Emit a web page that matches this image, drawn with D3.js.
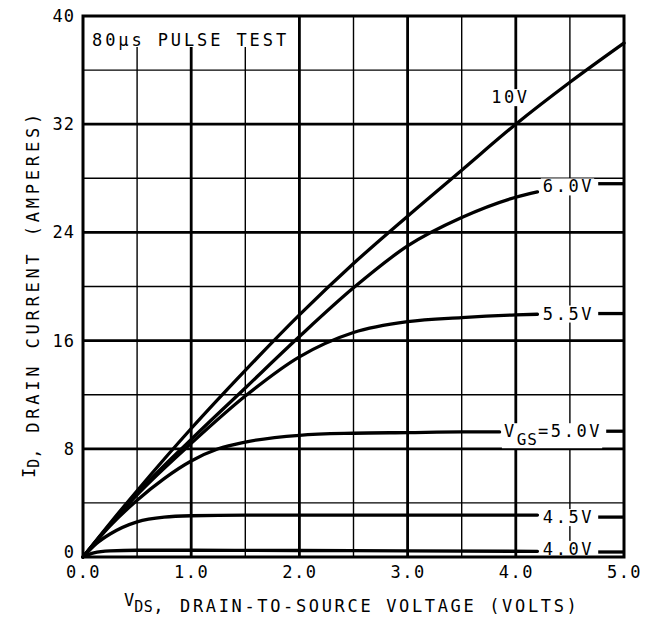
<!DOCTYPE html>
<html><head><meta charset="utf-8">
<script src="https://cdn.jsdelivr.net/npm/d3@7"></script>
<style>
html,body{margin:0;padding:0;background:#fff;}
svg text{font-family:"DejaVu Sans Mono","Liberation Mono",monospace;fill:#000;}
</style></head>
<body>
<svg id="chart" width="647" height="620"></svg>
<script>
// ---- data ----
const xTickValues = [0, 1, 2, 3, 4, 5];
const xTickLabels = ["0.0", "1.0", "2.0", "3.0", "4.0", "5.0"];
const yTickValues = [0, 8, 16, 24, 32, 40];
const yTickLabels = ["0", "8", "16", "24", "32", "40"];
const xGridValues = [0.5, 1, 1.5, 2, 2.5, 3, 3.5, 4, 4.5];
const yGridValues = [4, 8, 12, 16, 20, 24, 28, 32, 36];

const vds10 = [0, 0.25, 0.5, 1.0, 1.5, 2.0, 2.5, 3.0, 3.5, 4.0, 4.5, 5.0];
const id10  = [0, 2.5, 4.9, 9.5, 13.8, 17.9, 21.7, 25.2, 28.6, 32.0, 35.1, 38.0];
const vds60 = [0, 0.25, 0.5, 1.0, 1.5, 2.0, 2.5, 3.0, 3.5, 4.0, 4.2];
const id60  = [0, 2.4, 4.7, 8.7, 12.5, 16.3, 19.9, 23.0, 25.1, 26.6, 27.0];
const vds55 = [0, 0.25, 0.5, 1.0, 1.5, 2.0, 2.5, 3.0, 3.5, 4.0, 4.2];
const id55  = [0, 2.4, 4.6, 8.4, 11.9, 14.8, 16.6, 17.4, 17.7, 17.9, 17.95];
const vds50 = [0, 0.25, 0.5, 0.75, 1.0, 1.25, 1.5, 2.0, 2.5, 3.0, 3.5, 3.85];
const id50  = [0, 2.3, 4.2, 5.8, 7.1, 8.0, 8.5, 9.0, 9.15, 9.2, 9.25, 9.25];
const vds45 = [0, 0.125, 0.25, 0.5, 0.75, 1.0, 1.5, 2.0, 3.0, 4.2];
const id45  = [0, 1.0, 1.7, 2.6, 2.95, 3.05, 3.1, 3.1, 3.1, 3.1];
const vds40 = [0, 0.1, 0.25, 0.5, 1.0, 2.0, 3.0, 4.2];
const id40  = [0, 0.3, 0.45, 0.5, 0.5, 0.48, 0.45, 0.42];

const seriesNames = ["10V", "6.0V", "5.5V", "5.0V", "4.5V", "4.0V"];
// label anchors in data units (VDS, ID)
const labelVds = [3.95, 4.25, 4.25, 3.89, 4.25, 4.25];
const labelId  = [34.0, 27.4, 18.0, 9.3, 2.95, 0.6];
const stubId   = [null, 27.6, 18.0, 9.3, 2.95, 0.37];

// ---- layout ----
const margin = {left: 83, top: 16, right: 23, bottom: 63};
const W = 647, H = 620;
const iw = W - margin.left - margin.right, ih = H - margin.top - margin.bottom;
const svg = d3.select("#chart");
const g = svg.append("g").attr("transform", `translate(${margin.left},${margin.top})`);
const x = d3.scaleLinear().domain([0, 5]).range([0, iw]);
const y = d3.scaleLinear().domain([0, 40]).range([ih, 0]);

// grid
g.selectAll(".vg").data(xGridValues).join("line")
  .attr("x1", d => x(d)).attr("x2", d => x(d)).attr("y1", 0).attr("y2", ih)
  .attr("stroke", "#000").attr("stroke-width", d => d % 1 === 0 ? 2.8 : 1.4);
g.selectAll(".hg").data(yGridValues).join("line")
  .attr("y1", d => y(d)).attr("y2", d => y(d)).attr("x1", 0).attr("x2", iw)
  .attr("stroke", "#000").attr("stroke-width", d => d % 8 === 0 ? 2.8 : 1.4);

const maskLayer = g.append("g");
const curveLayer = g.append("g");
const textLayer = g.append("g");

// pulse test note
textLayer.append("text").attr("x", 9).attr("y", 30)
  .attr("font-size", 17).attr("letter-spacing", 2.9).text("80μs PULSE TEST");

// curves
const line = d3.line().x(d => x(d[0])).y(d => y(d[1])).curve(d3.curveMonotoneX);
const seriesX = [vds10, vds60, vds55, vds50, vds45, vds40];
const seriesY = [id10, id60, id55, id50, id45, id40];
seriesX.forEach((xs, i) => {
  curveLayer.append("path").datum(xs.map((v, j) => [v, seriesY[i][j]]))
    .attr("d", line).attr("fill", "none").attr("stroke", "#000")
    .attr("stroke-width", 3.3).attr("stroke-linejoin", "round").attr("stroke-linecap", "round");
});

// curve labels
const labelNodes = [];
seriesNames.forEach((name, i) => {
  const t = textLayer.append("text")
    .attr("x", x(labelVds[i])).attr("y", y(labelId[i]) + 6)
    .attr("font-size", 17).attr("letter-spacing", 2.6);
  if (i === 0) {
    t.attr("text-anchor", "middle").text(name);
  } else if (name === "5.0V") {
    t.append("tspan").text("V");
    t.append("tspan").attr("dy", 8).attr("font-size", 16).attr("letter-spacing", 1).text("GS");
    t.append("tspan").attr("dy", -8).text("=5.0V");
  } else {
    t.text(name);
  }
  labelNodes.push(t);
  if (stubId[i] !== null) {
    const bb = t.node().getBBox();
    curveLayer.append("line")
      .attr("x1", bb.x + bb.width + 4).attr("x2", iw)
      .attr("y1", y(stubId[i])).attr("y2", y(stubId[i]))
      .attr("stroke", "#000").attr("stroke-width", 3.3);
  }
});

// white masks behind texts
labelNodes.forEach(t => {
  const bb = t.node().getBBox();
  maskLayer.append("rect").attr("x", bb.x - 2).attr("y", bb.y + 2)
    .attr("width", bb.width + 2).attr("height", bb.height - 3).attr("fill", "#fff");
});
maskLayer.append("rect").attr("x", 1).attr("y", 1).attr("width", x(1.9) - 1).attr("height", 30).attr("fill", "#fff");

// border
g.append("rect").attr("x", 0).attr("y", 0).attr("width", iw).attr("height", ih)
  .attr("fill", "none").attr("stroke", "#000").attr("stroke-width", 3);

// axes (labels only)
const xAxis = d3.axisBottom(x).tickValues(xTickValues).tickSize(0).tickPadding(0)
  .tickFormat((d, i) => xTickLabels[i]);
const gx = g.append("g").attr("transform", `translate(0,${ih})`).call(xAxis);
gx.select(".domain").remove();
gx.selectAll("text").attr("font-size", 17).attr("letter-spacing", 1.5)
  .attr("dy", 21).attr("font-family", '"DejaVu Sans Mono", monospace').attr("fill", "#000");

const yAxis = d3.axisLeft(y).tickValues(yTickValues).tickSize(0).tickPadding(8)
  .tickFormat((d, i) => yTickLabels[i]);
const gy = g.append("g").call(yAxis);
gy.select(".domain").remove();
gy.selectAll("text").attr("font-size", 17).attr("letter-spacing", 1)
  .attr("font-family", '"DejaVu Sans Mono", monospace').attr("fill", "#000")
  .attr("dy", d => d === 0 ? "0" : "0.32em");

// axis titles
const xt = svg.append("text").attr("x", 124).attr("y", 612).attr("font-size", 17);
xt.append("tspan").attr("dy", -6).text("V");
xt.append("tspan").attr("dy", 6).attr("font-size", 15).attr("letter-spacing", 0.5).text("DS");
xt.append("tspan").text(",");
svg.append("text").attr("x", 180).attr("y", 612).attr("font-size", 17)
  .attr("letter-spacing", 2.65).text("DRAIN-TO-SOURCE VOLTAGE (VOLTS)");

const yt = svg.append("text").attr("transform", "rotate(-90)")
  .attr("x", -478).attr("y", 39).attr("font-size", 17);
yt.append("tspan").attr("dy", -4).text("I");
yt.append("tspan").attr("dy", 4).attr("font-size", 15).text("D");
yt.append("tspan").text(",");
svg.append("text").attr("transform", "rotate(-90)")
  .attr("x", -110).attr("y", 39).attr("font-size", 17).attr("letter-spacing", 3.8)
  .attr("text-anchor", "end").text("DRAIN CURRENT (AMPERES)");
</script>
</body></html>
